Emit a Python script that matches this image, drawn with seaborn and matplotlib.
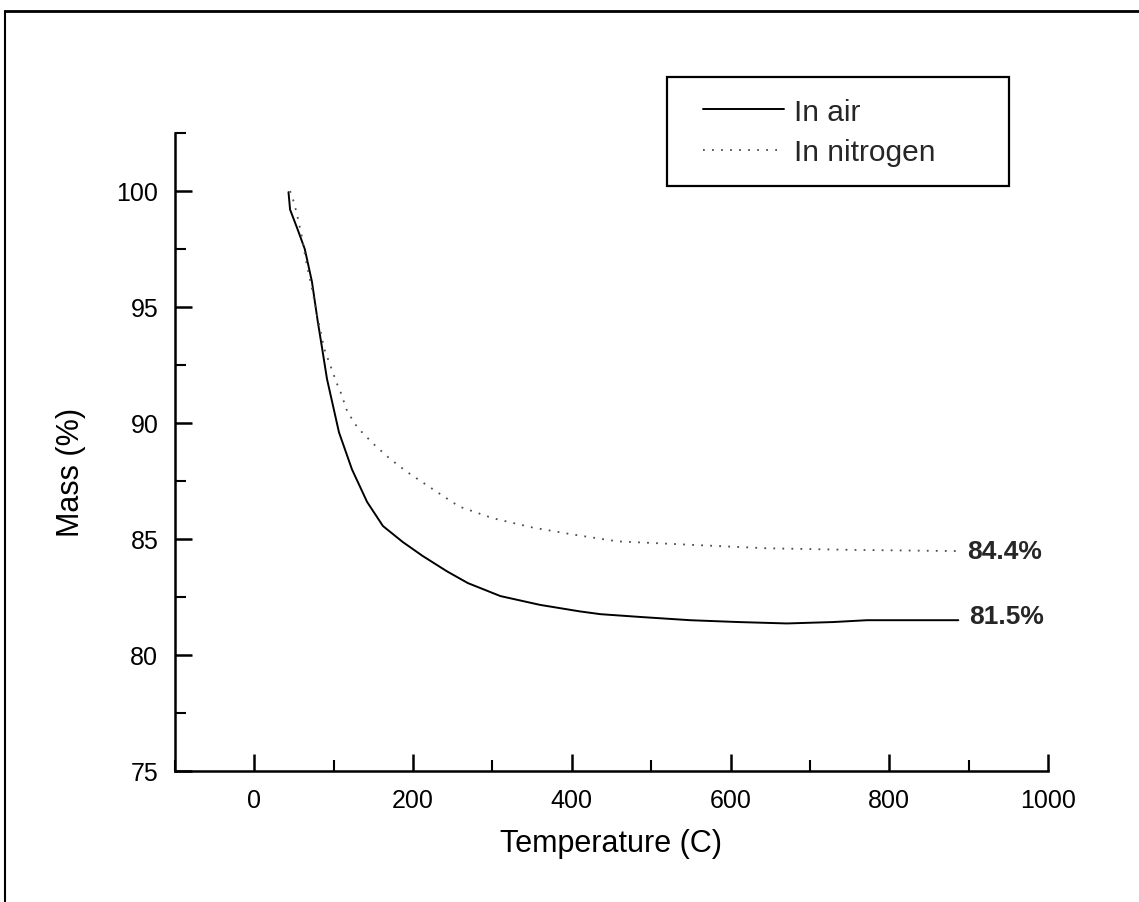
import matplotlib
matplotlib.use("Agg")
import matplotlib.pyplot as plt
import seaborn as sns
import pandas as pd
from matplotlib.lines import Line2D
from matplotlib.patches import Rectangle
from matplotlib.ticker import MultipleLocator

# ---- data ----
air_temp = [43, 45, 55, 63.5, 72.5, 80, 85, 91.5, 106.6, 123, 142, 162, 187, 212,
            243, 269, 310, 360, 410, 436, 486, 549, 610, 671, 729, 772, 830, 887]
air_mass = [99.95, 99.2, 98.3, 97.5, 96.1, 94.35, 93.3, 91.9, 89.6, 88.0, 86.6, 85.56,
            84.87, 84.27, 83.6, 83.1, 82.54, 82.16, 81.88, 81.76, 81.64, 81.5, 81.42,
            81.36, 81.42, 81.5, 81.5, 81.5]

n2_temp = [45, 50, 55, 60, 65, 72.5, 80, 88, 104, 109, 117, 130, 150, 171, 192, 205,
           238, 258, 300, 350, 400, 457, 550, 646, 754, 885]
n2_mass = [100.0, 99.5, 98.8, 98.0, 97.0, 95.8, 94.5, 93.2, 91.7, 91.3, 90.5, 89.8,
           89.1, 88.45, 87.9, 87.6, 86.85, 86.4, 85.9, 85.5, 85.2, 84.9, 84.75, 84.6,
           84.53, 84.48]

series_labels = ["In air", "In nitrogen"]
end_labels = ["81.5%", "84.4%"]

x_ticks = [0, 200, 400, 600, 800, 1000]
y_ticks = [75, 80, 85, 90, 95, 100]

sns.set_theme(style="ticks")
plt.rcParams["font.family"] = ["Liberation Sans", "DejaVu Sans"]

W, H = 1139, 903
fig = plt.figure(figsize=(W / 100, H / 100), dpi=100)
ax = fig.add_axes([175 / W, 1 - 772 / H, 873 / W, 638 / H])

df_air = pd.DataFrame({"T": air_temp, "M": air_mass})
df_n2 = pd.DataFrame({"T": n2_temp, "M": n2_mass})

sns.lineplot(data=df_air, x="T", y="M", ax=ax, sort=False, color="black",
             linewidth=1.4, label=series_labels[0])
sns.lineplot(data=df_n2, x="T", y="M", ax=ax, sort=False, color="0.3",
             linewidth=1.3, linestyle=(0, (1, 4)), label=series_labels[1])

ax.set_xlim(-100, 1000)
ax.set_ylim(75, 102.5)
ax.set_xticks(x_ticks)
ax.set_yticks(y_ticks)
ax.xaxis.set_minor_locator(MultipleLocator(100))
ax.yaxis.set_minor_locator(MultipleLocator(2.5))
ax.tick_params(axis="both", which="major", direction="in", length=12, width=1.8,
               labelsize=18, pad=12, color="black", labelcolor="black")
ax.tick_params(axis="both", which="minor", direction="in", length=8, width=1.5,
               color="black")
for s in ["left", "bottom"]:
    ax.spines[s].set_linewidth(1.8)
    ax.spines[s].set_color("black")
for s in ["top", "right"]:
    ax.spines[s].set_visible(False)

ax.set_xlabel("Temperature (C)", fontsize=22, labelpad=12, color="black")
ax.set_ylabel("Mass (%)", fontsize=22, color="black")
ax.yaxis.set_label_coords(-0.102, 0.47)

# end-value annotations
ax.text(900, 81.7, end_labels[0], fontsize=19, fontweight="bold", va="center", ha="left")
ax.text(898, 84.5, end_labels[1], fontsize=19, fontweight="bold", va="center", ha="left")

leg = ax.legend(loc="center left", bbox_to_anchor=(703 / W, 1 - 133 / H),
                bbox_transform=fig.transFigure, fontsize=21.5, frameon=False,
                handlelength=2.7, handletextpad=0.34, borderpad=0,
                labelspacing=0.42, borderaxespad=0)
fig.add_artist(Rectangle((667 / W, 1 - 187 / H), (1009 - 667) / W, (187 - 78) / H,
                         transform=fig.transFigure, fill=False, edgecolor="black",
                         linewidth=1.6))

# scanned-page border (top and left)
fig.add_artist(Line2D([5 / W, 1.0], [1 - 12 / H, 1 - 12 / H],
                      transform=fig.transFigure, color="black", linewidth=2))
fig.add_artist(Line2D([5 / W, 5 / W], [0, 1 - 12 / H],
                      transform=fig.transFigure, color="black", linewidth=1.5))

fig.savefig("out.png", dpi=100, facecolor="white")
